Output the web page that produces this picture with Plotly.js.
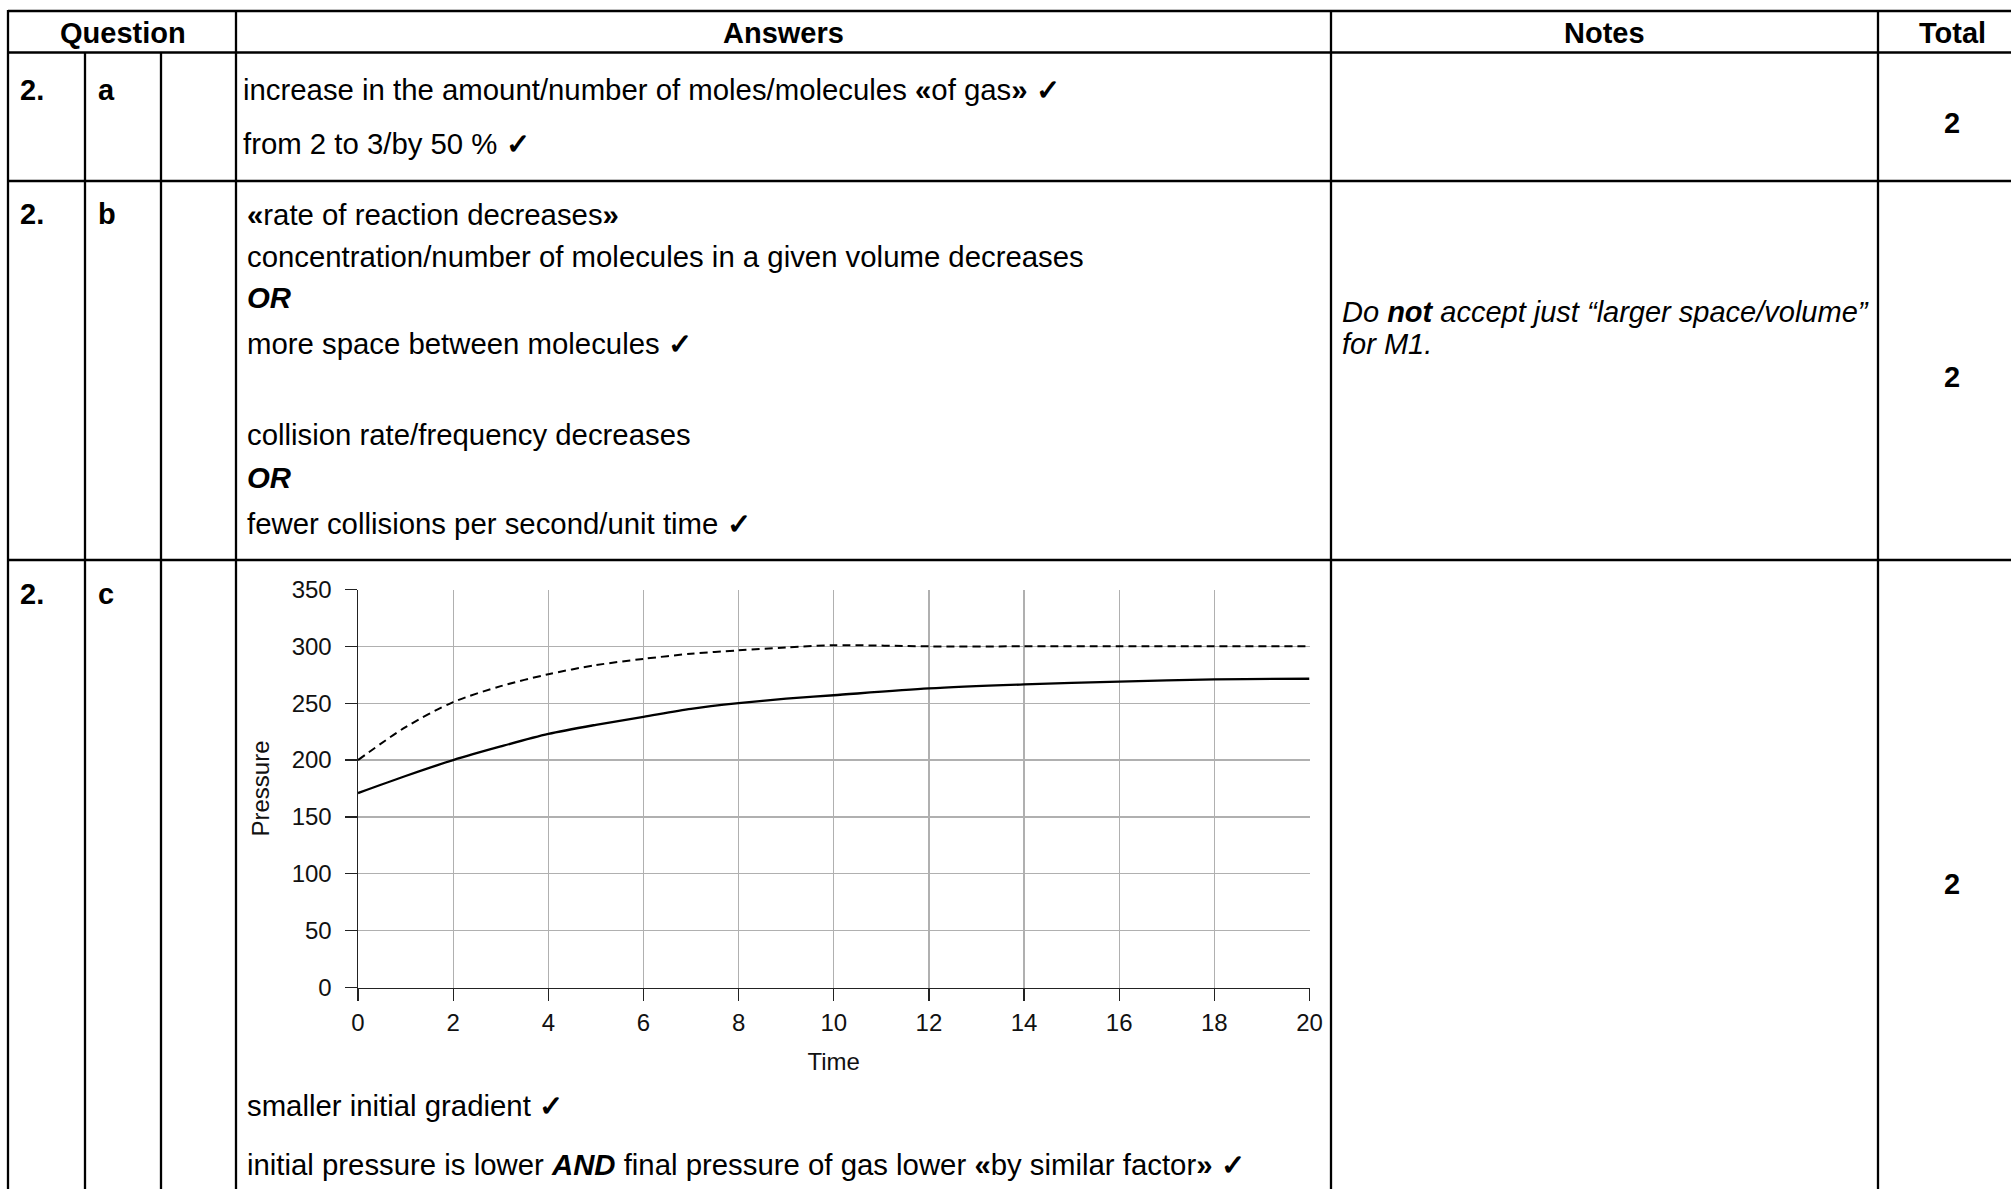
<!DOCTYPE html>
<html><head><meta charset="utf-8">
<script src="https://cdn.plot.ly/plotly-3.0.1.min.js"></script>
<style>html,body{margin:0;padding:0;background:#fff;overflow:hidden}</style>
</head><body>
<div id="chart" style="width:2011px;height:1189px"></div>
<script>
// ---- chart data ----
const time = [0, 1, 2, 3, 4, 5, 6, 7, 8, 9, 10, 12, 14, 16, 18, 20];
const pressureSolid = [171, 186, 200, 212, 223, 231, 238, 245, 250, 254, 257, 263, 266.5, 269, 271, 271.5];
const pressureDashed = [200, 229, 251, 265, 275.5, 283.5, 289, 293.5, 296.5, 299, 301, 300, 300, 300, 300, 300];
const xTickVals = [0, 2, 4, 6, 8, 10, 12, 14, 16, 18, 20];
const yTickVals = [0, 50, 100, 150, 200, 250, 300, 350];
const xAxisTitle = 'Time';
const yAxisTitle = 'Pressure';

// ---- table text ----
const CHECK = '<b>✓</b>';
const headers = ['Question', 'Answers', 'Notes', 'Total'];
const questionNums = ['2.', '2.', '2.'];
const questionParts = ['a', 'b', 'c'];
const totals = ['2', '2', '2'];
const answersA = [
  'increase in the amount/number of moles/molecules <b>«</b>of gas<b>»</b> ' + CHECK,
  'from 2 to 3/by 50 % ' + CHECK
];
const answersB = [
  '<b>«</b>rate of reaction decreases<b>»</b>',
  'concentration/number of molecules in a given volume decreases',
  '<b><i>OR</i></b>',
  'more space between molecules ' + CHECK,
  'collision rate/frequency decreases',
  '<b><i>OR</i></b>',
  'fewer collisions per second/unit time ' + CHECK
];
const notesB = [
  '<i>Do <b>not</b> accept just “larger space/volume”</i>',
  '<i>for M1.</i>'
];
const answersC = [
  'smaller initial gradient ' + CHECK,
  'initial pressure is lower <b><i>AND</i></b> final pressure of gas lower <b>«</b>by similar factor<b>»</b> ' + CHECK
];

// ---- layout helpers (pixel -> paper) ----
const W = 2011, H = 1189;
const px = v => v / W;
const py = v => 1 - v / H;
const FONT = 'Liberation Sans, Arial, Helvetica, sans-serif';
const FS = 29;
const AFS = 29.35;
const CFS = 24;

const annotations = [];
function txt(text, x, y, opts) {
  annotations.push(Object.assign({
    text: text, xref: 'paper', yref: 'paper', x: px(x), y: py(y),
    xanchor: 'left', yanchor: 'middle', showarrow: false,
    font: {family: FONT, size: FS, color: '#000'}, align: 'left'
  }, opts || {}));
}
const ansFont = {font: {family: FONT, size: AFS, color: '#000'}};

// headers
const headerX = [122.5, 783.5, 1604.5, 1952];
headers.forEach((h, i) => txt('<b>' + h + '</b>', headerX[i], 33, {xanchor: 'center'}));

// question numbers / parts / totals
const rowTextY = [89.8, 214.2, 593.8];
const totalY = [123, 377, 883.6];
questionNums.forEach((q, i) => {
  txt('<b>' + q + '</b>', 18, rowTextY[i]);
  txt('<b>' + questionParts[i] + '</b>', 96, rowTextY[i]);
  txt('<b>' + totals[i] + '</b>', 1952, totalY[i], {xanchor: 'center'});
});

// answers
const aY = [89.8, 143.6];
answersA.forEach((t, i) => txt(t, 241, aY[i], ansFont));
const bY = [214.2, 256.5, 297.5, 343.7, 434.8, 477.1, 523.3];
answersB.forEach((t, i) => txt(t, 245, bY[i], ansFont));
const nY = [311.6, 343.7];
notesB.forEach((t, i) => txt(t, 1340, nY[i]));
const cY = [1105.5, 1164.5];
answersC.forEach((t, i) => txt(t, 245, cY[i], ansFont));

// table lines
const shapes = [];
function hline(y, x0, x1) {
  shapes.push({type: 'line', xref: 'paper', yref: 'paper', x0: px(x0), x1: px(x1), y0: py(y), y1: py(y),
    line: {color: '#000', width: 2.3}});
}
function vline(x, y0, y1) {
  shapes.push({type: 'line', xref: 'paper', yref: 'paper', x0: px(x), x1: px(x), y0: py(y0), y1: py(y1),
    line: {color: '#000', width: 2.3}});
}
[11, 52.5, 181, 560].forEach(y => hline(y, 8, W + 5));
[8, 236, 1331, 1878].forEach(x => vline(x, 10, H + 5));
[85, 161].forEach(x => vline(x, 52.5, H + 5));

const traces = [
  {x: time, y: pressureSolid, type: 'scatter', mode: 'lines',
   line: {color: '#000', width: 2.3, shape: 'spline', smoothing: 0.8}, hoverinfo: 'skip'},
  {x: time, y: pressureDashed, type: 'scatter', mode: 'lines',
   line: {color: '#000', width: 2, dash: '8px,5px', shape: 'spline', smoothing: 0.8}, hoverinfo: 'skip'}
];

const axisCommon = {
  ticks: 'outside', ticklen: 12, tickwidth: 1.3, tickcolor: '#222',
  showline: true, linecolor: '#222', linewidth: 1.5,
  showgrid: true, gridcolor: '#b0b0b0', gridwidth: 1.2,
  zeroline: false, automargin: false, fixedrange: true,
  tickfont: {family: FONT, size: CFS, color: '#111'}
};

const layout = {
  width: W, height: H,
  margin: {l: 0, r: 0, t: 0, b: 0, pad: 0},
  paper_bgcolor: '#fff', plot_bgcolor: '#fff',
  showlegend: false,
  xaxis: Object.assign({}, axisCommon, {
    domain: [px(358), px(1309.5)], range: [0, 20], tickmode: 'array', tickvals: xTickVals,
    ticklabelstandoff: 1,
    title: {text: xAxisTitle, font: {family: FONT, size: CFS, color: '#111'}, standoff: 18}
  }),
  yaxis: Object.assign({}, axisCommon, {
    domain: [py(987.5), py(589.5)], range: [0, 350], tickmode: 'array', tickvals: yTickVals,
    ticklabelstandoff: 8,
    title: {text: yAxisTitle, font: {family: FONT, size: CFS, color: '#111'}, standoff: 15}
  }),
  annotations: annotations,
  shapes: shapes
};

Plotly.newPlot('chart', traces, layout, {staticPlot: true, displayModeBar: false});
</script>
</body></html>
